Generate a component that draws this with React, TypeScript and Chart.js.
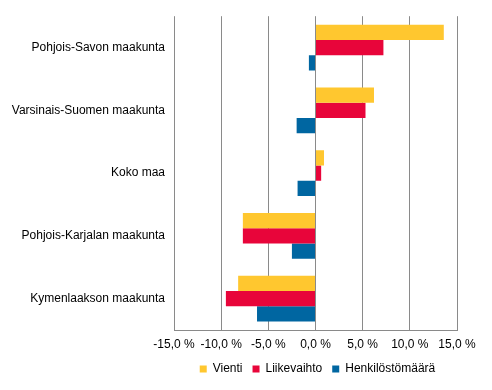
import React, { useEffect, useRef } from "react";
import { Chart, registerables } from "chart.js";

Chart.register(...registerables);

const categories = [
  "Pohjois-Savon maakunta",
  "Varsinais-Suomen maakunta",
  "Koko maa",
  "Pohjois-Karjalan maakunta",
  "Kymenlaakson maakunta",
];
const vienti = [13.6, 6.2, 0.9, -7.7, -8.2];
const liikevaihto = [7.2, 5.3, 0.6, -7.7, -9.5];
const henkilosto = [-0.7, -2.0, -1.9, -2.5, -6.2];
const xTicks = [-15, -10, -5, 0, 5, 10, 15];

const FONT = "'Liberation Sans', Arial, sans-serif";

const legendShift = {
  id: "legendShift",
  afterLayout(chart: any) {
    const l = chart.legend;
    const ca = chart.chartArea;
    if (!l || !ca) return;
    const dx = (ca.left + ca.right) / 2 + 2 - (l.left + l.right) / 2;
    l.left += dx;
    l.right += dx;
  },
};

export default function App() {
  const ref = useRef<HTMLCanvasElement | null>(null);
  useEffect(() => {
    document.body.style.margin = "0";
    const ctx = ref.current!.getContext("2d")!;
    const chart = new Chart(ctx, {
      type: "bar",
      data: {
        labels: categories,
        datasets: [
          { label: "Vienti", data: vienti, backgroundColor: "#FFC72F" },
          { label: "Liikevaihto", data: liikevaihto, backgroundColor: "#E8053A" },
          { label: "Henkilöstömäärä", data: henkilosto, backgroundColor: "#0066A1" },
        ],
      },
      options: {
        indexAxis: "y",
        responsive: false,
        animation: false,
        datasets: { bar: { categoryPercentage: 0.73, barPercentage: 1.0 } } as any,
        layout: { padding: { top: 15, right: 35, left: 0, bottom: 5 } },
        scales: {
          x: {
            min: -15,
            max: 15,
            afterBuildTicks: (s: any) => {
              s.ticks = xTicks.map((v) => ({ value: v }));
            },
            afterFit: (s: any) => {
              s.height = 23;
            },
            grid: { color: "#8a8a8a", lineWidth: 1, drawTicks: false },
            border: { color: "#8a8a8a", width: 1 },
            ticks: {
              padding: 7,
              maxRotation: 0,
              minRotation: 0,
              autoSkip: false,
              color: "#000",
              font: { family: FONT, size: 12 },
              callback: (v: any) => Number(v).toFixed(1).replace(".", ",") + " %",
            },
          },
          y: {
            afterFit: (s: any) => {
              s.width = 174;
            },
            grid: { display: false, drawTicks: false },
            border: { display: false },
            ticks: { padding: 9, color: "#000", font: { family: FONT, size: 12 } },
          },
        },
        plugins: {
          legend: {
            position: "bottom",
            labels: {
              boxWidth: 7,
              boxHeight: 7,
              padding: 10,
              color: "#000",
              font: { family: FONT, size: 12 },
            },
          },
          tooltip: { enabled: false },
        },
      },
      plugins: [legendShift],
    });
    return () => chart.destroy();
  }, []);
  return <canvas ref={ref} width={492} height={390} style={{ display: "block" }} />;
}
